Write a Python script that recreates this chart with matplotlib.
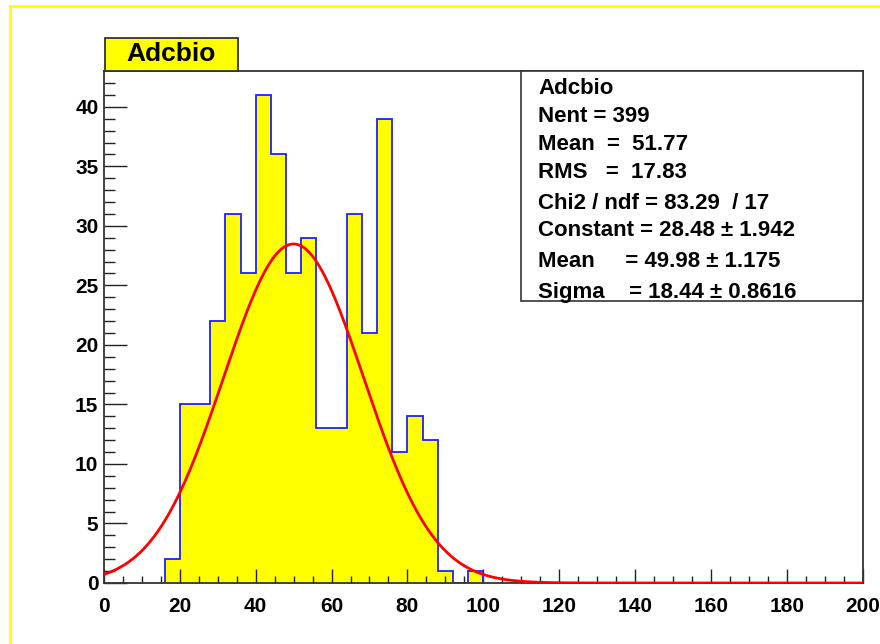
import numpy as np
import matplotlib
matplotlib.use("Agg")
import matplotlib.pyplot as plt
from matplotlib.lines import Line2D
from matplotlib.patches import Rectangle

plt.rcParams['font.family'] = ['Liberation Sans', 'DejaVu Sans']

# Adcbio histogram, 4-unit bins starting at 16
bin_width = 4
first_edge = 16
counts = [2, 15, 15, 22, 31, 26, 41, 36, 26, 29, 13, 13, 31, 21, 39, 11, 14, 12, 1, 0, 1]

# gaussian fit results
fit_const = 28.48
fit_mean = 49.98
fit_sigma = 18.44

stats_lines = [
    "Adcbio",
    "Nent = 399",
    "Mean  =  51.77",
    "RMS   =  17.83",
    "Chi2 / ndf = 83.29  / 17",
    "Constant = 28.48 \u00b1 1.942",
    "Mean     = 49.98 \u00b1 1.175",
    "Sigma    = 18.44 \u00b1 0.8616",
]

edges = first_edge + bin_width * np.arange(len(counts) + 1)

fig = plt.figure(figsize=(8.8, 6.44), dpi=100)
W, H = 880, 644

def fx(px):
    return px / W

def fy(py):
    return 1 - py / H

ax = fig.add_axes([fx(104), fy(583), fx(862.5) - fx(104), fy(70.5) - fy(583)])

ax.stairs(counts, edges, fill=True, color='#ffff00', zorder=1)
ax.stairs(counts, edges, color='#2020ff', lw=1.3, zorder=2)

xs = np.linspace(0, 200, 600)
ax.plot(xs, fit_const * np.exp(-0.5 * ((xs - fit_mean) / fit_sigma) ** 2),
        color='#ff0000', lw=2, zorder=3)

ax.set_xlim(0, 200)
ax.set_ylim(0, 1.05 * max(counts))
ax.set_xticks(np.arange(0, 201, 20))
ax.set_xticks(np.arange(0, 201, 5), minor=True)
ax.set_yticks(np.arange(0, 41, 5))
ax.set_yticks(np.arange(0, 43, 1), minor=True)

for s in ax.spines.values():
    s.set_color('#333333')
    s.set_linewidth(1.3)

ax.tick_params(axis='both', which='both', direction='in', color='#222222',
               labelsize=15, width=1.0)
ax.tick_params(axis='x', which='major', length=10, pad=10)
ax.tick_params(axis='x', which='minor', length=5)
ax.tick_params(axis='y', which='major', length=16.5, pad=4)
ax.tick_params(axis='y', which='minor', length=8)
ax.tick_params(top=False, right=False)
for lab in ax.get_xticklabels() + ax.get_yticklabels():
    lab.set_fontweight('bold')

# title box
fig.patches.append(Rectangle((fx(105), fy(70.5)), fx(238) - fx(105), fy(38) - fy(70.5),
                             transform=fig.transFigure, facecolor='#ffff00',
                             edgecolor='#333333', lw=1.3, zorder=5))
fig.text(fx(171), fy(54), "Adcbio", ha='center', va='center',
         fontsize=19, fontweight='bold', zorder=6)

# statistics box
fig.patches.append(Rectangle((fx(521), fy(301)), fx(863) - fx(521), fy(70.5) - fy(301),
                             transform=fig.transFigure, facecolor='white',
                             edgecolor='#333333', lw=1.2, zorder=5))
line_y = [88, 116, 145, 173, 203, 231, 262, 292]
for txt, py in zip(stats_lines, line_y):
    fig.text(fx(538), fy(py), txt, ha='left', va='center', fontsize=16,
             fontweight='bold', zorder=6)

# canvas border
fig.lines.append(Line2D([fx(10), fx(10)], [fy(6), 0], transform=fig.transFigure,
                        color='#ffff00', lw=2))
fig.lines.append(Line2D([fx(10), 1], [fy(6), fy(6)], transform=fig.transFigure,
                        color='#ffff00', lw=2))

fig.savefig('out.png', dpi=100)
